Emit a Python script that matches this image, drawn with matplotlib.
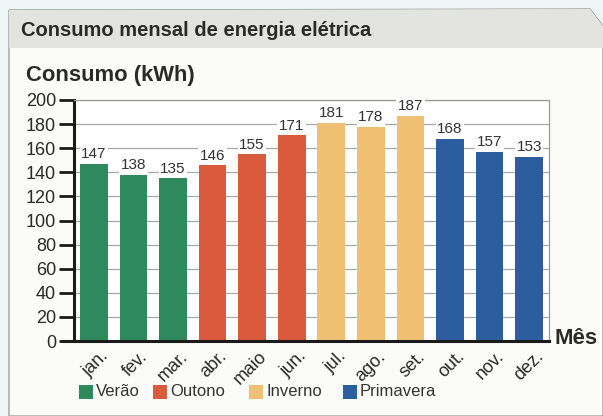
import matplotlib
matplotlib.use("Agg")
import matplotlib.pyplot as plt
import matplotlib.transforms as mtransforms
from matplotlib.patches import Rectangle, Polygon
from matplotlib.lines import Line2D

months = ["jan.", "fev.", "mar.", "abr.", "maio", "jun.", "jul.", "ago.", "set.", "out.", "nov.", "dez."]
consumo = [147, 138, 135, 146, 155, 171, 181, 178, 187, 168, 157, 153]
estacoes = ["Verão", "Outono", "Inverno", "Primavera"]
estacao_idx = [0, 0, 0, 1, 1, 1, 2, 2, 2, 3, 3, 3]
cores = ["#2e8a5c", "#d95a3c", "#f0c072", "#2c5e9f"]
yticks = list(range(0, 201, 20))

plt.rcParams['font.family'] = ['Liberation Sans', 'DejaVu Sans']

W, H = 603, 416
fig = plt.figure(figsize=(W / 100, H / 100), dpi=100)
fig.patch.set_facecolor("#eef5f7")

def fx(x): return x / W
def fy(y): return 1 - y / H

# panel
panel = Polygon([(fx(9), fy(416)), (fx(9), fy(10)), (fx(590), fy(9)), (fx(603), fy(26)), (fx(603), fy(416))],
                closed=True, transform=fig.transFigure, facecolor="#fbfbf9", edgecolor="#8a8a8a", lw=0.8, zorder=-2)
fig.patches.append(panel)
band = Polygon([(fx(9), fy(48)), (fx(9), fy(10)), (fx(590), fy(9)), (fx(603), fy(26)), (fx(603), fy(48))],
               closed=True, transform=fig.transFigure, facecolor="#e3e3df", edgecolor="none", zorder=-1)
fig.patches.append(band)

fig.text(fx(21), fy(30), "Consumo mensal de energia elétrica", fontsize=14.5, fontweight="bold",
         color="#2a2a2a", ha="left", va="center")
fig.text(fx(26), fy(75), "Consumo (kWh)", fontsize=15.8, fontweight="bold",
         color="#2a2a2a", ha="left", va="center")

L, R, B, T = 74, 549, 341, 100
ax = fig.add_axes([fx(L), fy(B), fx(R) - fx(L), fy(T) - fy(B)], zorder=2)
ax.set_facecolor("white")
x = list(range(len(months)))
bar_colors = [cores[i] for i in estacao_idx]
bars = ax.bar(x, consumo, width=0.7, color=bar_colors, zorder=3)
ax.set_xlim(-0.5, len(months) - 0.5)
ax.set_ylim(0, 200)
ax.set_yticks(yticks)
ax.yaxis.grid(True, color="#a8a8a8", lw=0.9, zorder=0)
ax.set_axisbelow(True)

for xi, v in zip(x, consumo):
    ax.text(xi, v + 2, str(v), ha="center", va="bottom", fontsize=11, color="#333333", zorder=4,
            bbox=dict(boxstyle="square,pad=0.1", facecolor="white", edgecolor="none"))

ax.spines["top"].set_color("#9a9a9a")
ax.spines["right"].set_color("#9a9a9a")
ax.spines["top"].set_linewidth(0.9)
ax.spines["right"].set_linewidth(0.9)
ax.spines["left"].set_linewidth(2.2)
ax.spines["left"].set_color("#1a1a1a")
ax.spines["bottom"].set_visible(False)
ax.add_line(Line2D([-11 / (R - L), 1.0], [0, 0], transform=ax.transAxes, color="#1a1a1a", lw=2.2,
                   clip_on=False, zorder=5))

ax.tick_params(axis="y", direction="out", length=11, width=2, color="#1a1a1a", labelsize=13,
               labelcolor="#2a2a2a", pad=2)
ax.set_xticks(x)
ax.set_xticklabels(months, rotation=45, ha="right", va="top", rotation_mode="anchor",
                   fontsize=13, color="#2a2a2a")
ax.tick_params(axis="x", length=0, pad=5)
offset = mtransforms.ScaledTranslation(6 / 100, 0, fig.dpi_scale_trans)
for lab in ax.get_xticklabels():
    lab.set_transform(lab.get_transform() + offset)

fig.text(fx(555), fy(338), "Mês", fontsize=16, fontweight="bold", color="#2a2a2a", ha="left", va="center")

# legend
leg_x = [79, 153, 249, 343]
for lx, nome, c in zip(leg_x, estacoes, cores):
    fig.patches.append(Rectangle((fx(lx), fy(399)), fx(14), 14 / H, transform=fig.transFigure,
                                 facecolor=c, edgecolor="none"))
    fig.text(fx(lx + 17), fy(392), nome, fontsize=12, color="#333333", ha="left", va="center")

fig.savefig("out.png", dpi=100, facecolor=fig.get_facecolor())
